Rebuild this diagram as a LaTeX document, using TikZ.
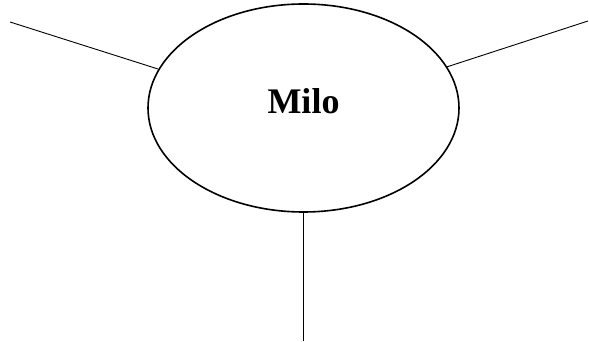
\documentclass[tikz,border=0pt]{standalone}
\usepackage{fontspec}
\setmainfont{Liberation Serif}
\usetikzlibrary{shapes.geometric}
\begin{document}
\begin{tikzpicture}[x=1pt,y=1pt,
  bubble/.style={draw,ellipse,line width=1.6pt,minimum width=311pt,minimum height=208pt,inner sep=0pt},
  spoke/.style={draw,line width=0.9pt},
  lbl/.style={font=\bfseries\fontsize{36}{40}\selectfont,anchor=base,inner sep=0pt}]
\useasboundingbox (0,0) rectangle (589,342);
\node[bubble] (e) at (303.5,234) {};
\node[lbl] (t) at (303.5,228) {Milo};
\coordinate (l) at (10,320);
\coordinate (r) at (588,321);
\coordinate (b) at (303.5,1);
\draw[spoke] (l) -- (e.165.3);
\draw[spoke] (r) -- (e.16.4);
\draw[spoke] (b) -- (e.south);
\end{tikzpicture}
\end{document}
